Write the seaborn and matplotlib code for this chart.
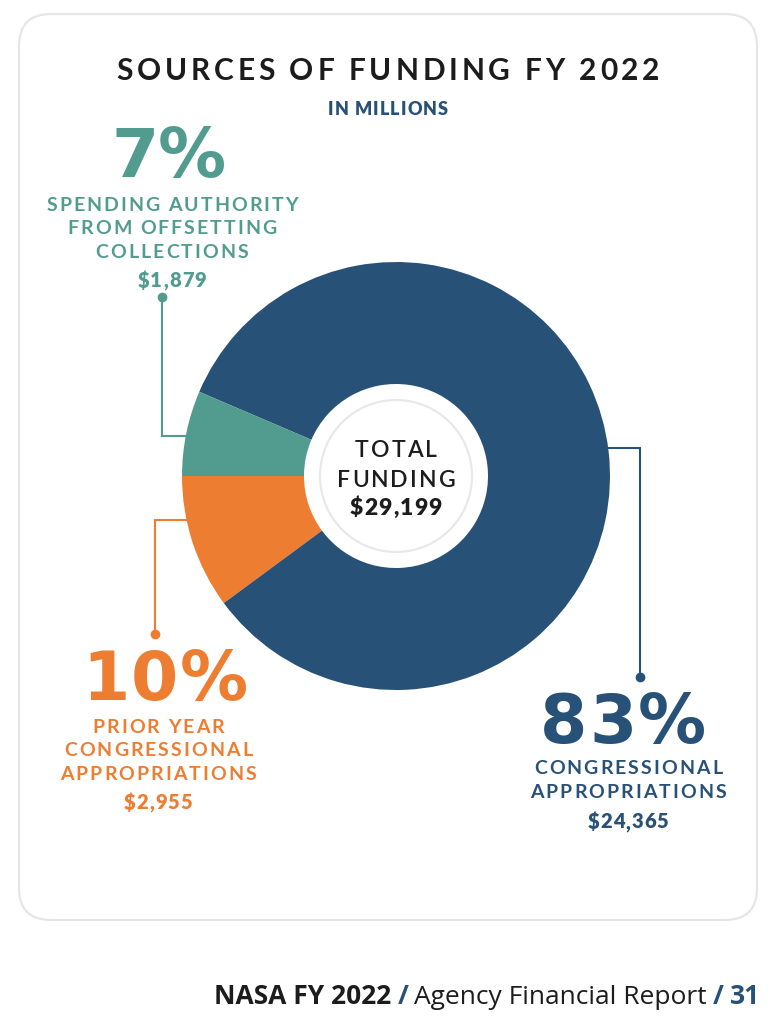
import matplotlib
matplotlib.use("Agg")
import matplotlib.pyplot as plt
import seaborn as sns
from matplotlib.patches import FancyBboxPatch, Circle
from matplotlib.font_manager import FontProperties

# data (USD millions)
categories = ["Prior Year Congressional Appropriations",
              "Congressional Appropriations",
              "Spending Authority from Offsetting Collections"]
amounts = [2955, 24365, 1879]
pct_labels = ["10%", "83%", "7%"]
label_lines = [["PRIOR YEAR", "CONGRESSIONAL", "APPROPRIATIONS"],
               ["CONGRESSIONAL", "APPROPRIATIONS"],
               ["SPENDING AUTHORITY", "FROM OFFSETTING", "COLLECTIONS"]]
colors = sns.color_palette(["#ed7d31", "#285177", "#519c8f"])

W, H, DPI = 775, 1024, 100
sns.set_theme(style="white")
plt.rcParams['font.family'] = ['Lato', 'DejaVu Sans']

fig = plt.figure(figsize=(W / DPI, H / DPI), dpi=DPI)
ax = fig.add_axes([0, 0, 1, 1])
renderer = fig.canvas.get_renderer()


def Y(y):
    # pixel row (top origin) -> data y
    return H - y


def tracked(x, y, s, size, color, weight="bold", family="Lato", gap=0.1, ha="center"):
    # draw text letter by letter so the wide letter spacing can be matched
    prop = FontProperties(family=family, weight=weight, size=size)
    em = size * DPI / 72
    widths = []
    for c in s:
        if c == " ":
            widths.append(0.22 * em)
        else:
            widths.append(renderer.get_text_width_height_descent(c, prop, ismath=False)[0])
    total = sum(widths) + gap * em * (len(s) - 1)
    x0 = x - total / 2 if ha == "center" else x
    for c, w in zip(s, widths):
        if c != " ":
            ax.text(x0, Y(y), c, fontproperties=prop, color=color,
                    ha="left", va="baseline", zorder=5)
        x0 += w + gap * em


# donut
cx, cy, r_out, r_in = 396, 476, 214, 92
ax.pie(amounts, colors=colors, startangle=180, counterclock=True,
       radius=r_out, center=(cx, Y(cy)),
       wedgeprops=dict(width=r_out - r_in, linewidth=0, zorder=3), frame=False)
ax.set_xlim(0, W)
ax.set_ylim(0, H)
ax.axis("off")
ax.add_patch(Circle((cx, Y(cy)), 76, fill=False, ec="#e8e8e8", lw=1.6, zorder=4))

# card
card = FancyBboxPatch((19, Y(920)), 738, 906, boxstyle="round,pad=0,rounding_size=32",
                      fc="white", ec="#e6e6e6", lw=1.6, zorder=0)
ax.add_patch(card)

# leader lines: (xs, ys) in pixels, ending in a dot
leaders = [
    ([190, 155, 155], [520, 520, 634]),
    ([600, 640, 640], [448, 448, 677]),
    ([190, 162, 162], [436, 436, 297]),
]
for (xs, ys), col in zip(leaders, colors):
    ax.plot(xs, [Y(v) for v in ys], color=col, lw=1.5, zorder=2, solid_joinstyle="miter")
    ax.plot(xs[-1], Y(ys[-1]), "o", color=col, ms=6, zorder=2)

# percentage + description + amount, per slice
label_pos = [
    dict(px=165, pb=700, pw=0.02, lx=158, lb=733, amt=809),
    dict(px=623, pb=743, pw=0.02, lx=628, lb=774, amt=828),
    dict(px=169, pb=177, pw=-0.02, lx=172, lb=211, amt=287),
]
for pct, lines, amt, col, p in zip(pct_labels, label_lines, amounts, colors, label_pos):
    tracked(p["px"], p["pb"], pct, 49, col, family="DejaVu Sans", gap=p["pw"])
    for i, line in enumerate(lines):
        tracked(p["lx"], p["lb"] + i * 23.5, line, 14, col, weight="bold", gap=0.105)
    tracked(p["lx"], p["amt"], f"${amt:,}", 14.5, col, weight="heavy", gap=0.05)

# centre of the donut
tracked(cx, 457, "TOTAL", 16.5, "#1c1c1c", weight="semibold", gap=0.09)
tracked(cx, 487, "FUNDING", 16.5, "#1c1c1c", weight="semibold", gap=0.09)
tracked(cx, 515, f"${sum(amounts):,}", 16.5, "#1c1c1c", weight="heavy", gap=0.05)

# titles
tracked(388, 80, "SOURCES OF FUNDING FY 2022", 21.5, "#1c1c1c", weight="bold", gap=0.13)
tracked(388, 115, "IN MILLIONS", 13, "#285177", weight="heavy", gap=0.06)

# footer, built right to left
footer = [("31", "bold", "#285177"), ("/", "bold", "#285177"),
          ("Agency Financial Report", "normal", "#1c1c1c"),
          ("/", "bold", "#285177"), ("NASA FY 2022", "bold", "#1c1c1c")]
xr = 760
for txt, wt, col in footer:
    t = ax.text(xr, Y(1004), txt, fontsize=19, fontweight=wt, color=col,
                family=["Open Sans", "DejaVu Sans"], ha="right", va="baseline")
    bb = t.get_window_extent(renderer=renderer)
    xr = bb.x0 - 6

fig.savefig("out.png", dpi=DPI, facecolor="white")
